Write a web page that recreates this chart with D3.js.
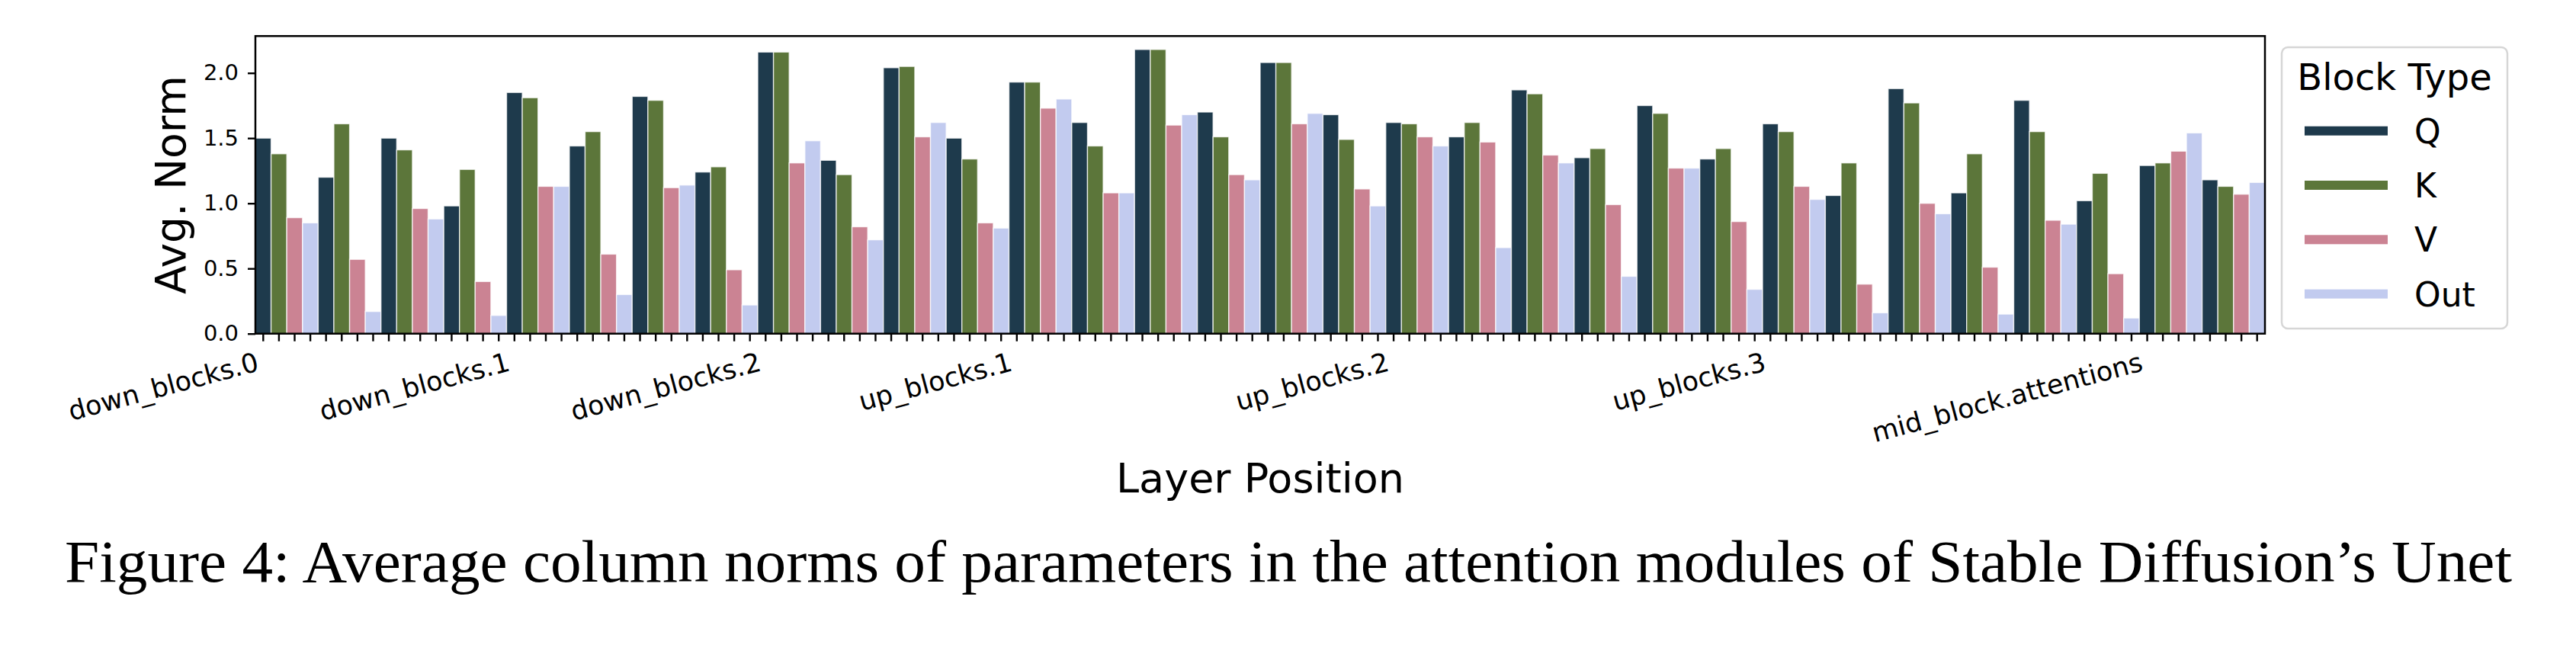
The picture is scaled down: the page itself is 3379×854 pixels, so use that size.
<!DOCTYPE html>
<html>
<head>
<meta charset="utf-8">
<script src="https://cdn.jsdelivr.net/npm/d3@7"></script>
<style>
  body { margin: 0; background: #fff; }
  svg text { font-family: "DejaVu Sans", sans-serif; fill: #000; }
</style>
</head>
<body>
<div id="chart"></div>
<script>
// block types (hue) and their colours
const blockTypes = ["Q", "K", "V", "Out"];
const colors = ["#1e3a4c", "#5c763a", "#cb8393", "#c2cbef"];

// layer groups shown on the x axis, with how many attention modules each holds
const blockNames = ["down_blocks.0", "down_blocks.1", "down_blocks.2",
                    "up_blocks.1", "up_blocks.2", "up_blocks.3", "mid_block.attentions"];
const blockSizes = [4, 4, 4, 6, 6, 6, 2];

// avg. column norm per module, one array per block type
const qNorm   = [1.50, 1.20, 1.50, 0.98, 1.85, 1.44, 1.82, 1.24, 2.16, 1.33, 2.04, 1.50, 1.93, 1.62, 2.18, 1.70,
                 2.08, 1.68, 1.62, 1.51, 1.87, 1.35, 1.75, 1.34, 1.61, 1.06, 1.88, 1.08, 1.79, 1.02, 1.29, 1.18];
const kNorm   = [1.38, 1.61, 1.41, 1.26, 1.81, 1.55, 1.79, 1.28, 2.16, 1.22, 2.05, 1.34, 1.93, 1.44, 2.18, 1.51,
                 2.08, 1.49, 1.61, 1.62, 1.84, 1.42, 1.69, 1.42, 1.55, 1.31, 1.77, 1.38, 1.55, 1.23, 1.31, 1.13];
const vNorm   = [0.89, 0.57, 0.96, 0.40, 1.13, 0.61, 1.12, 0.49, 1.31, 0.82, 1.51, 0.85, 1.73, 1.08, 1.60, 1.22,
                 1.61, 1.11, 1.51, 1.47, 1.37, 0.99, 1.27, 0.86, 1.13, 0.38, 1.00, 0.51, 0.87, 0.46, 1.40, 1.07];
const outNorm = [0.85, 0.17, 0.88, 0.14, 1.13, 0.30, 1.14, 0.22, 1.48, 0.72, 1.62, 0.81, 1.80, 1.08, 1.68, 1.18,
                 1.69, 0.98, 1.44, 0.66, 1.31, 0.44, 1.27, 0.34, 1.03, 0.16, 0.92, 0.15, 0.84, 0.12, 1.54, 1.16];

const yTicks = [0, 0.5, 1.0, 1.5, 2.0];

// flatten into one bar per (module, block type)
const series = [qNorm, kNorm, vNorm, outNorm];
const bars = [];
qNorm.forEach((_, m) => {
	series.forEach((s, t) => bars.push({ idx: m * 4 + t, type: t, value: s[m] }));
});

// bar index where each block's label sits
const labelAt = {};
let start = 0;
blockSizes.forEach((n, i) => { labelAt[start * 4] = blockNames[i]; start += n; });

const width = 3379, height = 854;
const plotLeft = 335, plotRight = 2971, plotTop = 47.3, plotBottom = 437.7;

const svg = d3.select("#chart").append("svg")
	.attr("width", width)
	.attr("height", height);

const x = d3.scaleBand()
	.domain(d3.range(bars.length))
	.range([plotLeft, plotRight])
	.padding(0);

const y = d3.scaleLinear()
	.domain([0, 2.283])
	.range([plotBottom, plotTop]);

svg.append("g")
	.selectAll("rect")
		.data(bars).enter()
	.append("rect")
		.attr("x", (d) => x(d.idx))
		.attr("y", (d) => y(d.value))
		.attr("width", x.bandwidth())
		.attr("height", (d) => y(0) - y(d.value))
		.attr("fill", (d) => colors[d.type])
		.attr("stroke", "#ffffff")
		.attr("stroke-opacity", 0.75)
		.attr("stroke-width", 1.4);

// x axis: a tick under every bar, labels only at block starts
const xAxis = svg.append("g")
	.attr("transform", `translate(0,${plotBottom})`)
	.call(d3.axisBottom(x)
		.tickSize(10)
		.tickSizeOuter(0)
		.tickFormat((i) => labelAt[i] || ""));
xAxis.select(".domain").remove();
xAxis.selectAll(".tick line").attr("stroke", "#000").attr("stroke-width", 2.4);
xAxis.selectAll(".tick text")
	.attr("x", 0)
	.attr("y", 0)
	.attr("dy", 0)
	.attr("text-anchor", "end")
	.attr("transform", "translate(-4,48) rotate(-15)")
	.style("font-size", "35px")
	.style("font-family", "DejaVu Sans");

// y axis
const yAxis = svg.append("g")
	.attr("transform", `translate(${plotLeft},0)`)
	.call(d3.axisLeft(y)
		.tickValues(yTicks)
		.tickSize(10)
		.tickPadding(12)
		.tickSizeOuter(0)
		.tickFormat(d3.format(".1f")));
yAxis.select(".domain").remove();
yAxis.selectAll(".tick line").attr("stroke", "#000").attr("stroke-width", 2.4);
yAxis.selectAll(".tick text")
	.style("font-size", "29px")
	.style("font-family", "DejaVu Sans");

// frame
svg.append("rect")
	.attr("x", plotLeft)
	.attr("y", plotTop)
	.attr("width", plotRight - plotLeft)
	.attr("height", plotBottom - plotTop)
	.attr("fill", "none")
	.attr("stroke", "#000")
	.attr("stroke-width", 2.5);

// axis titles
svg.append("text")
	.attr("transform", `translate(243,${(plotTop + plotBottom) / 2}) rotate(-90)`)
	.attr("text-anchor", "middle")
	.style("font-size", "55px")
	.text("Avg. Norm");

svg.append("text")
	.attr("x", (plotLeft + plotRight) / 2)
	.attr("y", 646)
	.attr("text-anchor", "middle")
	.style("font-size", "54px")
	.text("Layer Position");

// legend
const legend = svg.append("g");
legend.append("rect")
	.attr("x", 2993)
	.attr("y", 62)
	.attr("width", 296)
	.attr("height", 369)
	.attr("rx", 8)
	.attr("fill", "#fff")
	.attr("stroke", "#d6d6d6")
	.attr("stroke-width", 2.5);
legend.append("text")
	.attr("x", 3141)
	.attr("y", 118)
	.attr("text-anchor", "middle")
	.style("font-size", "48px")
	.text("Block Type");

const items = legend.selectAll(".item")
		.data(blockTypes).enter()
	.append("g")
		.attr("class", "item")
		.attr("transform", (d, i) => `translate(0,${171.7 + i * 71.3})`);
items.append("rect")
	.attr("x", 3023)
	.attr("y", -6)
	.attr("width", 109)
	.attr("height", 12)
	.attr("fill", (d, i) => colors[i]);
items.append("text")
	.attr("x", 3167)
	.attr("y", 16)
	.style("font-size", "44px")
	.text((d) => d);

// caption
svg.append("text")
	.attr("x", 85)
	.attr("y", 763)
	.attr("textLength", 3210)
	.attr("lengthAdjust", "spacingAndGlyphs")
	.style("font-family", "'Liberation Serif', 'Times New Roman', serif")
	.style("font-size", "79px")
	.text("Figure 4: Average column norms of parameters in the attention modules of Stable Diffusion\u2019s Unet");
</script>
</body>
</html>
